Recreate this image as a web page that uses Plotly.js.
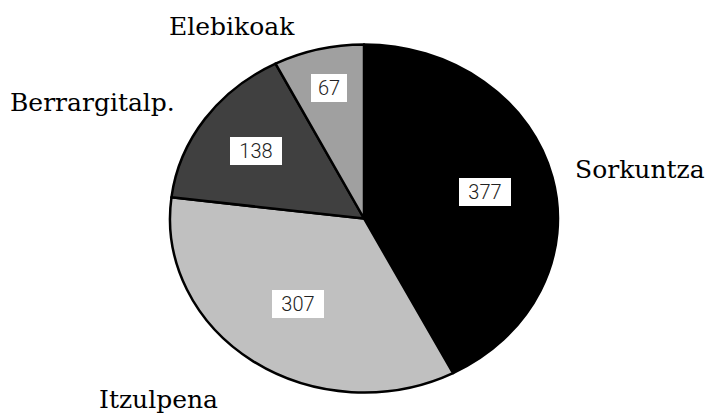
<!DOCTYPE html>
<html><head><meta charset="utf-8">
<script src="https://cdn.plot.ly/plotly-3.0.1.min.js"></script>
<style>html,body{margin:0;padding:0;background:#fff}#chart{width:710px;height:413px}</style>
</head><body><div id="chart"></div>
<script>
// ---- data ----
const categories = ['Sorkuntza', 'Itzulpena', 'Berrargitalp.', 'Elebikoak'];
const values = [377, 307, 138, 67];
const sliceColors = ['#000000', '#c0c0c0', '#404040', '#a0a0a0'];

// ---- layout geometry ----
const W = 710, H = 413, CX = 364, CY = 218.5, RX = 194, RY = 174;
const valueR = [0.64, 0.60, 0.68, 0.77];
const labelOffsets = [[1.423, -0.284], [-1.057, 1.043], [-1.402, -0.664], [-0.680, -1.101]];

const total = values.reduce((a, b) => a + b, 0);
let cum = 0;
const annotations = [];
values.forEach((v, i) => {
  const mid = (cum + v / 2) / total * 2 * Math.PI;
  cum += v;
  const px = CX + Math.sin(mid) * valueR[i] * RX;
  const py = CY - Math.cos(mid) * valueR[i] * RY;
  const txt = String(v);
  annotations.push({
    x: px / W, y: 1 - py / H, xref: 'paper', yref: 'paper',
    text: txt, showarrow: false, bgcolor: '#ffffff',
    borderpad: 0, borderwidth: 0,
    width: txt.length * 16 + 4, height: 28,
    font: {family: 'Roboto', size: 20, color: '#222222', weight: 300},
    xanchor: 'center', yanchor: 'middle'
  });
  const lx = CX + labelOffsets[i][0] * RX;
  const ly = CY + labelOffsets[i][1] * RY;
  annotations.push({
    x: lx / W, y: 1 - ly / H, xref: 'paper', yref: 'paper',
    text: categories[i], showarrow: false,
    font: {family: 'DejaVu Serif', size: 25, color: '#000000'},
    xanchor: 'center', yanchor: 'middle'
  });
});

const trace = {
  type: 'pie', values: values, labels: categories,
  sort: false, direction: 'clockwise', rotation: 0,
  marker: {colors: sliceColors, line: {color: '#000000', width: 2.5}},
  textinfo: 'none', hoverinfo: 'none', showlegend: false,
  domain: {x: [(CX - RX) / W, (CX + RX) / W], y: [(H - CY - RY) / H, (H - CY + RY) / H]}
};

const layout = {
  width: W, height: H, margin: {l: 0, r: 0, t: 0, b: 0},
  paper_bgcolor: '#ffffff', plot_bgcolor: '#ffffff',
  showlegend: false, annotations: annotations
};

Plotly.newPlot('chart', [trace], layout, {staticPlot: true}).then(() => {
  const pl = document.querySelector('.pielayer');
  if (pl) {
    pl.setAttribute('transform', `translate(${CX},${CY}) scale(${RX / RY},1) translate(${-CX},${-CY})`);
    pl.querySelectorAll('path').forEach(p => p.style.vectorEffect = 'non-scaling-stroke');
  }
});
</script>
</body></html>
